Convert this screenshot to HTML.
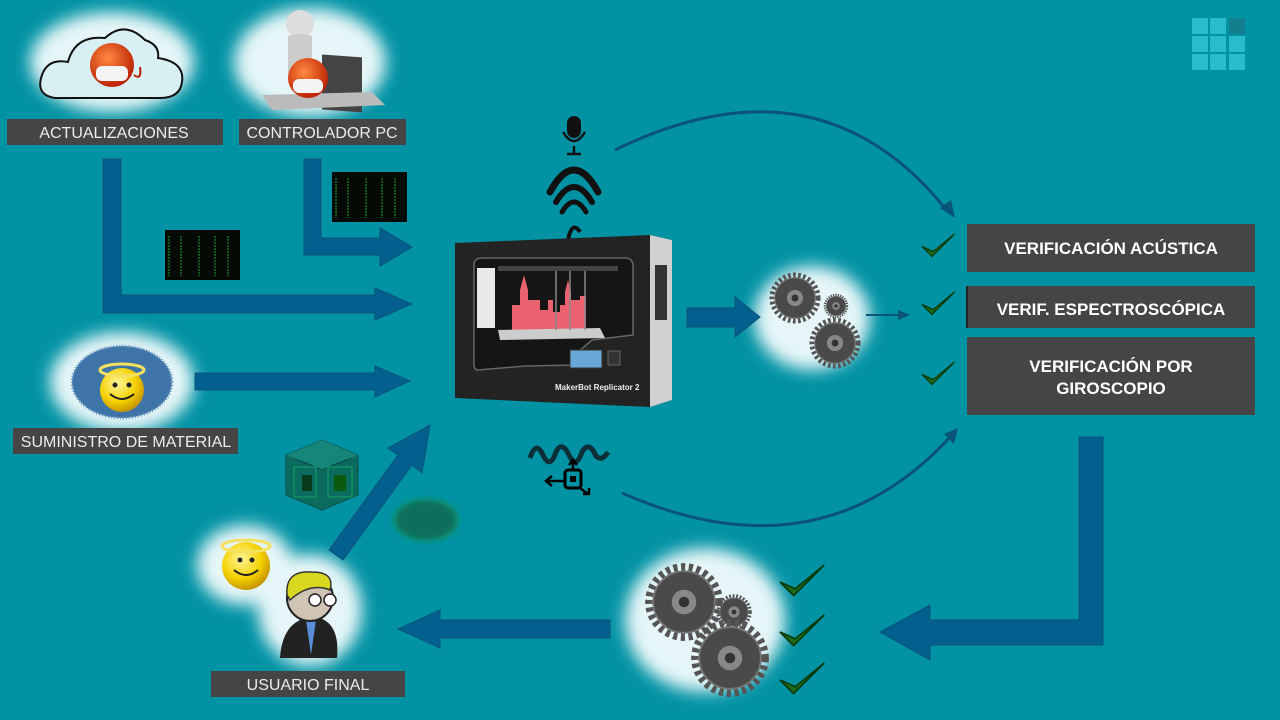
<!DOCTYPE html>
<html><head><meta charset="utf-8"><style>
html,body{margin:0;padding:0;background:#0192a4;}
svg{display:block}
text{font-family:"Liberation Sans",sans-serif}
</style></head><body>
<svg width="1280" height="720" viewBox="0 0 1280 720" xmlns="http://www.w3.org/2000/svg">
<defs>
<filter id="blur" x="-30%" y="-30%" width="160%" height="160%"><feGaussianBlur stdDeviation="8"/></filter>
<filter id="blur2" x="-30%" y="-30%" width="160%" height="160%"><feGaussianBlur stdDeviation="3"/></filter>
<radialGradient id="smile" cx="40%" cy="35%" r="70%"><stop offset="0" stop-color="#fff59a"/><stop offset="0.6" stop-color="#f4d000"/><stop offset="1" stop-color="#c08a00"/></radialGradient>
<radialGradient id="devil" cx="40%" cy="35%" r="70%"><stop offset="0" stop-color="#ff8a40"/><stop offset="1" stop-color="#b81a00"/></radialGradient>
<g id="gear">
<circle r="1" fill="none" stroke="#555" stroke-width="0.22" stroke-dasharray="0.12 0.1"/>
<circle r="0.88" fill="#4a4a4a" stroke="#777" stroke-width="0.05"/>
<circle r="0.35" fill="#888"/><circle r="0.15" fill="#333"/>
</g>
<g id="chk"><path d="M0 10 L8 18 L26 0 L9 14 Z" fill="#1d6b1d" stroke="#0a3a0a" stroke-width="1"/></g>
</defs>
<rect width="1280" height="720" fill="#0192a4"/>

<g fill="#2bbccb">
<rect x="1192" y="18" width="16" height="16"/><rect x="1210" y="18" width="16" height="16"/><rect x="1229" y="18" width="16" height="16" fill="#137f8e"/>
<rect x="1192" y="36" width="16" height="16"/><rect x="1210" y="36" width="16" height="16"/><rect x="1229" y="36" width="16" height="16"/>
<rect x="1192" y="54" width="16" height="16"/><rect x="1210" y="54" width="16" height="16"/><rect x="1229" y="54" width="16" height="16"/>
</g>

<g fill="#e6f6f8" filter="url(#blur)">
<ellipse cx="112" cy="62" rx="82" ry="50"/>
<ellipse cx="310" cy="62" rx="76" ry="54"/>
<ellipse cx="122" cy="382" rx="72" ry="50"/>
<ellipse cx="245" cy="565" rx="48" ry="40"/>
<ellipse cx="310" cy="610" rx="52" ry="56"/>
<ellipse cx="812" cy="318" rx="58" ry="52"/>
<ellipse cx="705" cy="620" rx="80" ry="72"/>
</g>

<path d="M55 98 Q35 95 42 75 Q48 58 68 62 Q75 35 105 38 Q125 20 145 40 Q160 45 158 58 Q185 62 182 82 Q180 98 160 98 Z" fill="#d8f0f3" stroke="#111" stroke-width="2"/>
<circle cx="112" cy="65" r="22" fill="url(#devil)"/>
<rect x="96" y="66" width="32" height="15" rx="6" fill="#f4f4f4"/>
<path d="M134 75 q8 6 6 -8" stroke="#b81a00" stroke-width="2" fill="none"/>
<circle cx="300" cy="24" r="14" fill="#ddd"/>
<path d="M288 36 Q300 32 312 36 L312 75 L288 75 Z" fill="#ccc"/>
<rect x="322" y="32" width="40" height="55" fill="#444" transform="skewY(4)"/>
<path d="M262 95 L372 92 L385 105 L272 110 Z" fill="#bbb"/>
<circle cx="308" cy="78" r="20" fill="url(#devil)"/>
<rect x="293" y="79" width="30" height="14" rx="6" fill="#f4f4f4"/>

<g fill="#454545">
<rect x="7" y="119" width="216" height="26"/>
<rect x="239" y="119" width="167" height="26"/>
<rect x="13" y="428" width="225" height="26"/>
<rect x="211" y="671" width="194" height="26"/>
</g>
<g fill="#ececec" font-size="16" text-anchor="middle">
<text x="114" y="138">ACTUALIZACIONES</text>
<text x="322" y="138">CONTROLADOR PC</text>
<text x="126" y="447">SUMINISTRO DE MATERIAL</text>
<text x="308" y="690">USUARIO FINAL</text>
</g>

<g fill="#03608e" stroke="#0a5478" stroke-width="1">
<path d="M103 159 L121 159 L121 295 L375 295 L375 288 L412 304 L375 320 L375 313 L103 313 Z"/>
<path d="M304 159 L321 159 L321 238 L380 238 L380 228 L412 247 L380 266 L380 255 L304 255 Z"/>
<path d="M195 373 L375 373 L375 366 L410 381 L375 397 L375 390 L195 390 Z"/>
<path d="M329 550 L398 455 L388 448 L430 425 L422 473 L412 465 L343 560 Z"/>
<path d="M687 308 L735 308 L735 297 L760 317 L735 337 L735 327 L687 327 Z"/>
<path d="M1079 437 L1103 437 L1103 645 L930 645 L930 660 L880 632 L930 605 L930 620 L1079 620 Z"/>
<path d="M610 620 L440 620 L440 610 L398 629 L440 648 L440 638 L610 638 Z"/>
</g>
<path d="M866 315 L900 315" stroke="#0a5478" stroke-width="2"/>
<path d="M898 310 L910 315 L898 320 Z" fill="#0a5478"/>
<path d="M615 150 Q820 50 948 212" stroke="#0a5478" stroke-width="3" fill="none"/>
<path d="M940 208 L955 218 L951 200 Z" fill="#0a5478"/>
<path d="M622 493 Q820 580 952 435" stroke="#0a5478" stroke-width="3" fill="none"/>
<path d="M944 434 L958 428 L954 444 Z" fill="#0a5478"/>

<g>
<rect x="332" y="172" width="75" height="50" fill="#050a05"/>
<rect x="165" y="230" width="75" height="50" fill="#050a05"/>
<g stroke="#1c8a2a" stroke-width="1.2" stroke-dasharray="2 1">
<path d="M336 178 V218 M348 178 V218 M366 178 V218 M382 178 V218 M395 178 V218"/>
<path d="M169 236 V276 M181 236 V276 M199 236 V276 M215 236 V276 M228 236 V276"/>
</g>
</g>

<ellipse cx="122" cy="382" rx="50" ry="36" fill="#3e74a8"/>
<ellipse cx="122" cy="382" rx="50" ry="36" fill="none" stroke="#6a9ac4" stroke-width="3" stroke-dasharray="1 2"/>
<circle cx="122" cy="390" r="22" fill="url(#smile)"/>
<ellipse cx="122" cy="370" rx="22" ry="6" fill="none" stroke="#f5e060" stroke-width="3"/>
<circle cx="115" cy="385" r="2.5" fill="#222"/><circle cx="129" cy="385" r="2.5" fill="#222"/>
<path d="M110 394 Q122 404 134 394" stroke="#222" stroke-width="2" fill="none"/>

<circle cx="246" cy="566" r="24" fill="url(#smile)"/>
<ellipse cx="246" cy="546" rx="24" ry="6" fill="none" stroke="#f5e060" stroke-width="3"/>
<circle cx="240" cy="560" r="2.5" fill="#222"/><circle cx="252" cy="560" r="2.5" fill="#222"/>
<path d="M234 570 Q246 580 258 570" stroke="#222" stroke-width="2" fill="none"/>
<path d="M280 658 Q282 625 305 618 L320 618 Q340 625 337 658 Z" fill="#222"/>
<path d="M306 620 L311 655 L316 620 Z" fill="#5a8ed8"/>
<circle cx="310" cy="598" r="23" fill="#d0c4b4" stroke="#222" stroke-width="2"/>
<path d="M287 595 Q285 570 312 572 Q335 572 330 590 Q310 582 290 600 Z" fill="#d8d820" stroke="#333" stroke-width="1.5"/>
<circle cx="315" cy="600" r="6" fill="#fff" stroke="#222" stroke-width="1.5"/>
<circle cx="330" cy="600" r="6" fill="#fff" stroke="#222" stroke-width="1.5"/>

<g transform="translate(322 475)">
<path d="M0 -35 L36 -20 L36 20 L0 35 L-36 20 L-36 -20 Z" fill="#0b6b5e" stroke="#0a4f48"/>
<path d="M0 -35 L36 -20 L0 -5 L-36 -20 Z" fill="#16867a"/>
<path d="M-30 -17 L0 -5 L30 -17 M-24 -15 L0 -5 L24 -15 M-18 -13 L0 -5 L18 -13" stroke="#0a5048" fill="none"/>
<rect x="-28" y="-8" width="22" height="30" fill="none" stroke="#1aa36a"/>
<rect x="-20" y="0" width="10" height="16" fill="#083c1c"/>
<rect x="6" y="-8" width="24" height="30" fill="none" stroke="#1aa36a"/>
<rect x="12" y="0" width="12" height="16" fill="#0c5a10"/>
</g>
<ellipse cx="426" cy="520" rx="32" ry="21" fill="#0b6e5c" stroke="#0fa070" stroke-width="2" filter="url(#blur2)"/>

<rect x="567" y="116" width="14" height="22" rx="7" fill="#111"/>
<path d="M563 132 Q574 150 585 132" stroke="#111" stroke-width="2.5" fill="none"/>
<path d="M574 146 V153 M567 154 H581" stroke="#111" stroke-width="2.5"/>
<g fill="none" stroke="#111" stroke-linecap="round">
<path d="M550 192 Q574 148 598 192" stroke-width="7"/>
<path d="M556 202 Q574 172 592 202" stroke-width="6"/>
<path d="M562 212 Q574 192 586 212" stroke-width="5"/>
</g>
<path d="M568 240 Q572 220 580 232" stroke="#111" stroke-width="4" fill="none"/>

<path d="M530 458 Q536 440 543 455 Q550 470 556 452 Q562 440 569 455 Q576 470 582 452 Q589 440 596 456 Q602 462 608 452" stroke="#0c2f38" stroke-width="5" fill="none"/>
<rect x="565" y="470" width="16" height="18" rx="3" fill="none" stroke="#000" stroke-width="3"/>
<rect x="570" y="476" width="6" height="6" fill="#000"/>
<path d="M565 481 H548 M552 476 L546 481 L552 486 M573 470 V461 M569 465 L573 460 L577 465 M580 488 L588 494 M583 494 H589 V488" stroke="#000" stroke-width="2.5" fill="none"/>

<g>
<path d="M455 243 L650 235 L672 240 L672 400 L650 407 L455 398 Z" fill="#232323"/>
<path d="M650 235 L672 240 L672 400 L650 407 Z" fill="#d0d0d0"/>
<rect x="655" y="265" width="12" height="55" fill="#333"/>
<path d="M474 265 Q474 258 482 258 L625 258 Q633 258 633 266 L633 335 L592 340 L578 352 L578 365 L525 366 L478 370 Q474 370 474 364 Z" fill="#151515" stroke="#666" stroke-width="1.5"/>
<rect x="477" y="268" width="18" height="60" fill="#e8e8e8"/>
<rect x="498" y="266" width="120" height="5" fill="#444"/>
<path d="M512 330 V305 H520 V290 L524 275 L528 290 V300 H540 V310 H548 V300 H553 V312 H560 V305 H565 V292 L568 280 L571 292 V300 H580 V296 H586 V330 Z" fill="#ea6170"/>
<path d="M498 330 L600 328 L605 338 L500 340 Z" fill="#ccc"/>
<path d="M556 271 V330 M570 271 V330 M585 271 V330" stroke="#888" stroke-width="1.5"/>
<rect x="570" y="350" width="32" height="18" fill="#6aa8d8" stroke="#333"/>
<rect x="608" y="351" width="12" height="14" fill="#333" stroke="#666"/>
<text x="555" y="390" font-size="8" fill="#eee" font-weight="bold">MakerBot Replicator 2</text>
</g>

<use href="#gear" transform="translate(795 298) scale(23)"/>
<use href="#gear" transform="translate(836 306) scale(11)"/>
<use href="#gear" transform="translate(835 343) scale(23)"/>
<use href="#gear" transform="translate(684 602) scale(35)"/>
<use href="#gear" transform="translate(734 612) scale(16)"/>
<use href="#gear" transform="translate(730 658) scale(35)"/>

<g transform="translate(922 234) scale(1.25)"><use href="#chk"/></g>
<g transform="translate(922 292) scale(1.25)"><use href="#chk"/></g>
<g transform="translate(922 362) scale(1.25)"><use href="#chk"/></g>
<g transform="translate(780 565) scale(1.7)"><use href="#chk"/></g>
<g transform="translate(780 615) scale(1.7)"><use href="#chk"/></g>
<g transform="translate(780 663) scale(1.7)"><use href="#chk"/></g>

<g fill="#454545">
<rect x="967" y="224" width="288" height="48"/>
<rect x="967" y="286" width="288" height="42"/>
<rect x="967" y="337" width="288" height="78"/>
</g>
<rect x="966" y="286" width="2" height="42" fill="#222"/>
<g fill="#fff" font-size="17" font-weight="bold" text-anchor="middle">
<text x="1111" y="254">VERIFICACIÓN ACÚSTICA</text>
<text x="1111" y="315">VERIF. ESPECTROSCÓPICA</text>
<text x="1111" y="372">VERIFICACIÓN POR</text>
<text x="1111" y="394">GIROSCOPIO</text>
</g>
</svg>
</body></html>
